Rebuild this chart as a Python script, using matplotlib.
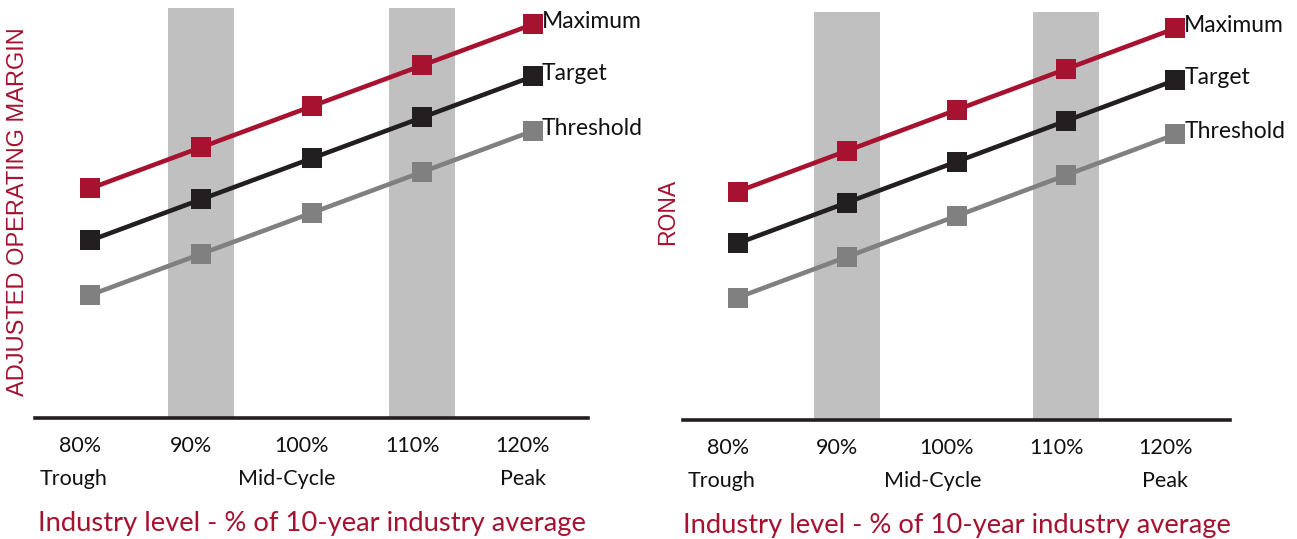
import matplotlib
matplotlib.use("Agg")
import matplotlib.pyplot as plt
from matplotlib.transforms import offset_copy

# Industry level (% of 10-year industry average)
levels = [80, 90, 100, 110, 120]
level_labels = ["80%", "90%", "100%", "110%", "120%"]
cycle_labels = ["Trough", "Mid-Cycle", "Peak"]
cycle_at = [78.5, 97.8, 119.1]

# Payout curves (relative scale, no units shown)
maximum = [5.6, 6.6, 7.6, 8.6, 9.6]
target = [4.33, 5.33, 6.33, 7.33, 8.33]
threshold = [3.0, 4.0, 5.0, 6.0, 7.0]
series_names = ["Maximum", "Target", "Threshold"]

# Shaded bands around the 90% and 110% levels
bands = [(87.0, 93.0), (107.0, 113.0)]

RED = "#A6122F"
BLACK = "#231F20"
GREY = "#808080"
BAND = "#C0C0C0"
BODY_FONT = ["Lato", "DejaVu Sans"]

fig = plt.figure(figsize=(12.97, 5.39), dpi=100)
panels = [
    ("ADJUSTED OPERATING MARGIN", [35 / 1297, 121 / 539, 553 / 1297, 410 / 539], 18 / 1297, 17.0),
    ("RONA", [683 / 1297, 119 / 539, 547 / 1297, 408 / 539], 668 / 1297, 16.5),
]

for ylabel, rect, ylab_x, ylab_size in panels:
    ax = fig.add_axes(rect)
    ax.set_xlim(75, 125)
    ax.set_ylim(0, 10)
    for lo, hi in bands:
        ax.axvspan(lo, hi, color=BAND, lw=0, zorder=0)

    for vals, col, name in zip([maximum, target, threshold], [RED, BLACK, GREY], series_names):
        ax.plot(levels, vals, color=col, lw=3.3, marker="s", ms=14,
                markeredgewidth=0, zorder=3, solid_capstyle="butt")
        ax.annotate(name, (levels[-1], vals[-1]), xytext=(6.5, 2),
                    textcoords="offset points", ha="left", va="center",
                    fontsize=16.5, family=BODY_FONT, color="#111111")

    for s in ["top", "right", "left"]:
        ax.spines[s].set_visible(False)
    ax.spines["bottom"].set_linewidth(2.6)
    ax.spines["bottom"].set_color(BLACK)
    ax.set_yticks([])
    ax.set_xticks([])

    # Level labels and cycle labels below the axis
    trans_top = offset_copy(ax.get_xaxis_transform(), fig=fig, x=0, y=-20, units="points")
    for lv, lab in zip(levels, level_labels):
        ax.text(lv - 0.9, 0, lab, transform=trans_top, ha="center", va="center",
                fontsize=15.5, family=BODY_FONT, color="#111111")
    trans_mid = offset_copy(ax.get_xaxis_transform(), fig=fig, x=0, y=-44, units="points")
    for pos, lab in zip(cycle_at, cycle_labels):
        ax.text(pos, 0, lab, transform=trans_mid, ha="center", va="center",
                fontsize=15.5, family=BODY_FONT, color="#111111")
    trans_bot = offset_copy(ax.get_xaxis_transform(), fig=fig, x=0, y=-76, units="points")
    ax.text(100, 0, "Industry level - % of 10-year industry average",
            transform=trans_bot, ha="center", va="center",
            fontsize=19.7, family=BODY_FONT, color=RED)

    fig.text(ylab_x, 1 - 212 / 539, ylabel, rotation=90, ha="center", va="center",
             fontsize=ylab_size, family=["Liberation Sans", "DejaVu Sans"], color=RED)

fig.savefig("out.png", dpi=100)
